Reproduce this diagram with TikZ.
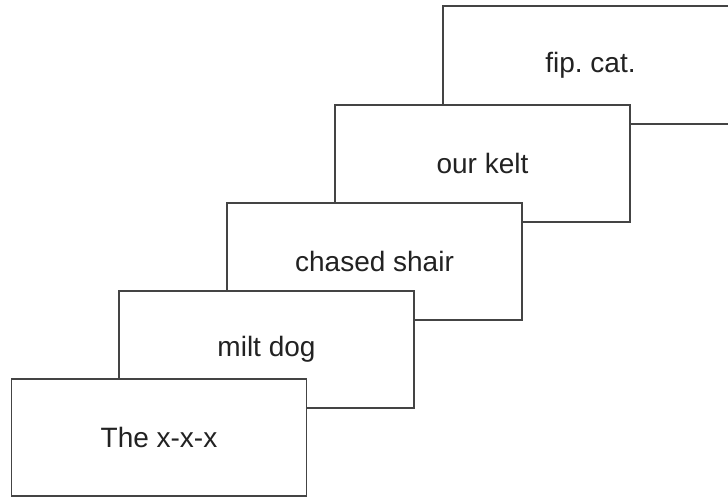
\documentclass[tikz,border=0pt]{standalone}
\usepackage{fontspec}
\setmainfont{Liberation Sans}
\frenchspacing
\definecolor{edge}{HTML}{444444}
\definecolor{ink}{HTML}{222222}
\begin{document}
\begin{tikzpicture}[x=1pt,y=-1pt,
  card/.style={draw=edge, line width=1.7pt, fill=white,
    minimum width=295pt, minimum height=117.5pt, inner sep=0pt, outer sep=0pt,
    font=\fontsize{28}{32}\selectfont, text=ink}]
  \useasboundingbox (0,0) rectangle (728,500);
  \clip (0,0) rectangle (728,500);
  % back to front: each card overlaps the one behind it
  \node[card] (b5) at (590.5,65)    {fip. cat.};
  \node[card] (b4) at (482.5,163.5) {our kelt};
  \node[card] (b3) at (374.5,261.5) {chased shair};
  \node[card] (b2) at (266.5,349.5) {milt dog};
  \node[card] (b1) at (159,437.5)   {The x-x-x};
\end{tikzpicture}
\end{document}
